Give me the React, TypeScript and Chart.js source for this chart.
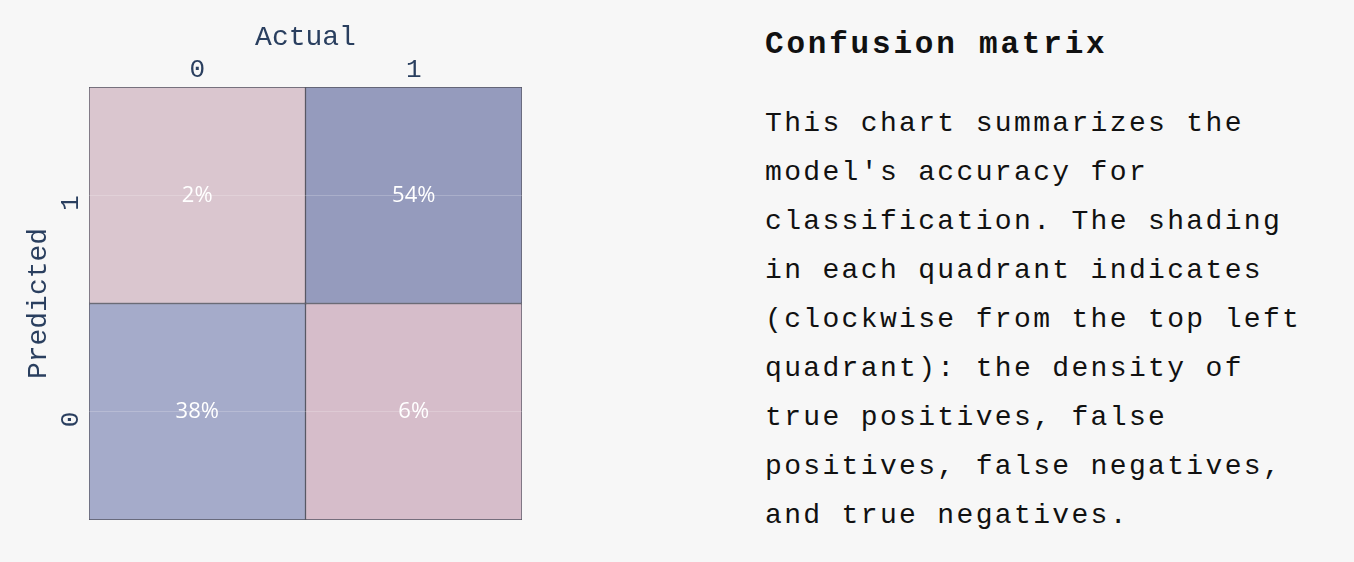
import React, { useEffect, useRef } from 'react';
import { Chart, registerables } from 'chart.js';

Chart.register(...registerables);

// ---- data ----
const actualLabels = ['0', '1'];
const predictedLabels = ['0', '1'];
// percentages, indexed by actual label
const predicted0Pct = [38, 6];
const predicted1Pct = [2, 54];
// cell shading, indexed by actual label
const predicted0Colors = ['#a5abca', '#d6bdca'];
const predicted1Colors = ['#dac6cf', '#959bbd'];

const xTitle = 'Actual';
const yTitle = 'Predicted';
const heading = 'Confusion matrix';
const bodyLines = [
  'This chart summarizes the',
  "model's accuracy for",
  'classification. The shading',
  'in each quadrant indicates',
  '(clockwise from the top left',
  'quadrant): the density of',
  'true positives, false',
  'positives, false negatives,',
  'and true negatives.',
];

const MONO = "'Liberation Mono', 'DejaVu Sans Mono', monospace";
const AXIS_COLOR = '#2a3f5f';

const rows = [
  { pct: predicted0Pct, colors: predicted0Colors },
  { pct: predicted1Pct, colors: predicted1Colors },
];

const cellLabelPlugin = {
  id: 'cellLabels',
  afterDatasetsDraw(chart: any) {
    const ctx = chart.ctx;
    chart.data.datasets.forEach((ds: any, di: number) => {
      const meta = chart.getDatasetMeta(di);
      meta.data.forEach((el: any, i: number) => {
        const p = el.getCenterPoint();
        ctx.save();
        ctx.fillStyle = '#ffffff';
        ctx.font = "22px 'Open Sans', sans-serif";
        ctx.textAlign = 'center';
        ctx.textBaseline = 'middle';
        ctx.fillText(ds.values[i] + '%', p.x, p.y);
        ctx.restore();
      });
    });
  },
};

function ConfusionChart() {
  const ref = useRef<HTMLCanvasElement | null>(null);
  useEffect(() => {
    if (!ref.current) return;
    const datasets = rows.map((row, r) => ({
      label: 'Predicted ' + predictedLabels[r],
      data: actualLabels.map(() => [r, r + 1]),
      values: row.pct,
      backgroundColor: row.colors,
      borderColor: 'rgba(55,55,70,0.85)',
      borderWidth: 1,
      borderSkipped: false,
      grouped: false,
      barPercentage: 1,
      categoryPercentage: 1,
    }));
    const chart = new Chart(ref.current, {
      type: 'bar',
      data: { labels: actualLabels, datasets: datasets as any },
      plugins: [cellLabelPlugin],
      options: {
        animation: false,
        responsive: false,
        layout: { padding: { top: 0, left: 0, right: 78, bottom: 42 } },
        plugins: { legend: { display: false }, tooltip: { enabled: false } },
        scales: {
          x: {
            type: 'category',
            position: 'top',
            offset: true,
            grid: { display: false, drawTicks: false },
            border: { display: false },
            ticks: { color: AXIS_COLOR, font: { family: MONO, size: 26 }, padding: 1, maxRotation: 0 },
            title: {
              display: true,
              text: xTitle,
              color: AXIS_COLOR,
              font: { family: MONO, size: 28 },
              padding: { top: 21, bottom: 0 },
            },
            afterFit: (s: any) => {
              s.height = 87;
            },
          },
          y: {
            type: 'linear',
            position: 'left',
            min: 0,
            max: predictedLabels.length,
            afterBuildTicks: (s: any) => {
              s.ticks = predictedLabels.map((_, i) => ({ value: i + 0.5 }));
            },
            ticks: {
              color: AXIS_COLOR,
              font: { family: MONO, size: 26 },
              padding: 18,
              minRotation: 90,
              maxRotation: 90,
              callback: (v: any) => predictedLabels[Math.floor(Number(v))],
            },
            grid: { color: 'rgba(255,255,255,0.2)', drawTicks: false, z: 1 },
            border: { display: false },
            title: {
              display: true,
              text: yTitle,
              color: AXIS_COLOR,
              font: { family: MONO, size: 28 },
              padding: { top: 22, bottom: 0 },
            },
            afterFit: (s: any) => {
              s.width = 89;
            },
          },
        },
      } as any,
    });
    return () => chart.destroy();
  }, []);
  return (
    <canvas
      ref={ref}
      width={600}
      height={562}
      style={{ position: 'absolute', left: 0, top: 0, width: 600, height: 562 }}
    />
  );
}

export default function App() {
  return (
    <div style={{ position: 'fixed', left: 0, top: 0, width: 1354, height: 562, background: '#f7f7f7', overflow: 'hidden' }}>
      <ConfusionChart />
      <div
        style={{
          position: 'absolute',
          left: 765,
          top: 25,
          fontFamily: MONO,
          fontWeight: 'bold',
          fontSize: 31,
          lineHeight: '40px',
          letterSpacing: '2.8px',
          color: '#111',
          whiteSpace: 'pre',
        }}
      >
        {heading}
      </div>
      <div
        style={{
          position: 'absolute',
          left: 765,
          top: 99,
          fontFamily: MONO,
          fontSize: 28,
          lineHeight: '49px',
          letterSpacing: '2.35px',
          color: '#111',
        }}
      >
        {bodyLines.map((l, i) => (
          <div key={i} style={{ whiteSpace: 'pre' }}>
            {l}
          </div>
        ))}
      </div>
    </div>
  );
}
